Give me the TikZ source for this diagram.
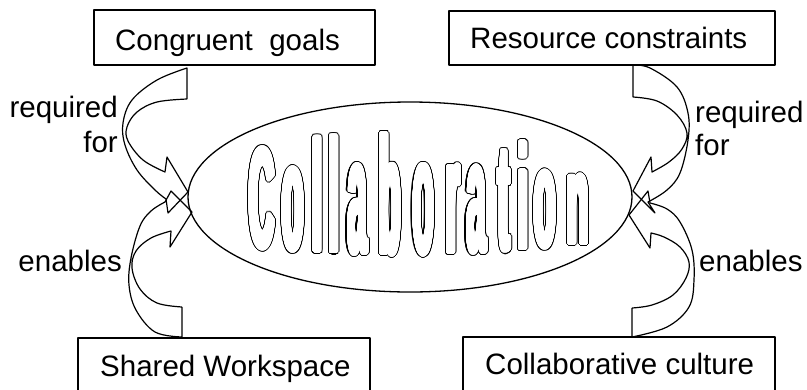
\documentclass[tikz,border=0pt]{standalone}
\usepackage{fontspec}
\setmainfont{Liberation Sans}
\usepackage[copies]{contour}
\contournumber{40}
\usetikzlibrary{shapes.geometric}
\begin{document}
\begin{tikzpicture}[x=1pt,y=-1pt, line join=round,
  box/.style={draw, line width=1.3pt, inner sep=0pt},
  lbl/.style={font=\fontsize{29.5}{35}\selectfont, inner sep=0pt},
  arr/.style={draw, line width=1.2pt},
  letter/.style={inner sep=0pt, anchor=base, font=\fontsize{30}{36}\selectfont\bfseries}]
\useasboundingbox (0,0) rectangle (807,389);
\clip (0,0) rectangle (807,389);
% boxes
\node[box, minimum width=281pt, minimum height=55pt] (cg) at (234.5,37.5) {};
\node[box, minimum width=326pt, minimum height=54pt] (rc) at (612,38) {};
\node[box, minimum width=292pt, minimum height=80pt] (sw) at (224,378) {};
\node[box, minimum width=312pt, minimum height=80pt] (cc) at (619,377) {};
\node[lbl, anchor=base west] (cgt) at (115,50) {Congruent\ \ goals};
\node[lbl, anchor=base west] (rct) at (470,48) {Resource constraints};
\node[lbl, anchor=base west] (swt) at (100,376) {Shared Workspace};
\node[lbl, anchor=base west] (cct) at (485,374) {Collaborative culture};
% labels
\node[lbl, anchor=base east] (rq1) at (118,117) {required};
\node[lbl, anchor=base east] (f1) at (118,152) {for};
\node[lbl, anchor=base west] (rq2) at (695,122) {required};
\node[lbl, anchor=base west] (f2) at (695,155) {for};
\node[lbl, anchor=base east] (en1) at (122,271) {enables};
\node[lbl, anchor=base west] (en2) at (699,271) {enables};
% ellipse
\node[draw, ellipse, minimum width=444pt, minimum height=190pt, inner sep=0pt, line width=1.3pt] (collab) at (410,197) {};
% word art (outlined, faux bold): black layer first, white layer on top
\def\wordart{C/262/250.0/5.00, o/293/252.4/5.31, l/317.5/253.9/5.50, l/334/254.6/5.60, a/357.5/255.4/5.70, b/390/256/5.77, o/423.5/255.8/5.75, r/453/255.1/5.66, a/476.5/254.2/5.54, t/504/252.6/5.33, i/523/251.3/5.16, o/545/249.4/4.92, n/578/246.1/4.48}
\foreach \ch/\xx/\yy/\sy [count=\i] in \wordart
{
  \pgfmathsetmacro{\syy}{\sy-0.25}
  \node[letter] (wb\i) at (\xx,\yy-2.6) {\contourlength{3.0pt}\contour{black}{\scalebox{1.15}[\syy]{\ch}}};
}
\foreach \ch/\xx/\yy/\sy [count=\i] in \wordart
{
  \pgfmathsetmacro{\syy}{\sy-0.25}
  \node[letter] (w\i) at (\xx,\yy-2.6) {\color{white}\contourlength{1.9pt}\contour{white}{\scalebox{1.15}[\syy]{\ch}}};
}
% curved block arrows
% top left: Congruent goals -> Collaboration
\draw[arr] (187,99) -- (187,68)
  -- plot[smooth, tension=0.6] coordinates {(187,68) (157,80) (132,100) (123,123) (125,145) (137,170) (155,190) (166,199)}
  -- (168,213) -- (188,192) -- (167,157) -- (165,172)
  -- plot[smooth, tension=0.6] coordinates {(165,172) (143,160) (128,141) (127,127) (137,112) (157,102) (187,99)};
% top right: Resource constraints -> Collaboration
\draw[arr] (633,97) -- (633,65)
  -- plot[smooth, tension=0.6] coordinates {(633,65) (650,68) (677,87) (688,113) (688,140) (680,173) (667,190) (648,202)}
  -- (655,213) -- (633,191) -- (651,157) -- (652,172)
  -- plot[smooth, tension=0.6] coordinates {(652,172) (669,162) (682,149) (687,133) (677,115) (657,101) (633,97)};
% bottom left: Shared Workspace -> Collaboration
\draw[arr] (182,307) -- (182,337)
  -- plot[smooth, tension=0.6] coordinates {(182,337) (155,332) (136,310) (129,285) (131,258) (140,226) (151,211) (165,202)}
  -- (171,191) -- (192,212) -- (170,247) -- (171,231)
  -- plot[smooth, tension=0.6] coordinates {(171,231) (151,238) (136,251) (132,268) (140,289) (157,303) (182,307)};
% bottom right: Collaborative culture -> Collaboration
\draw[arr] (632,308) -- (632,337)
  -- plot[smooth, tension=0.6] coordinates {(632,337) (667,327) (689,307) (694,280) (692,250) (680,222) (667,209) (650,203)}
  -- (648,191) -- (629,215) -- (650,248) -- (651,233)
  -- plot[smooth, tension=0.6] coordinates {(651,233) (664,237) (680,247) (689,262) (686,278) (673,295) (652,305) (632,308)};
\end{tikzpicture}
\end{document}
